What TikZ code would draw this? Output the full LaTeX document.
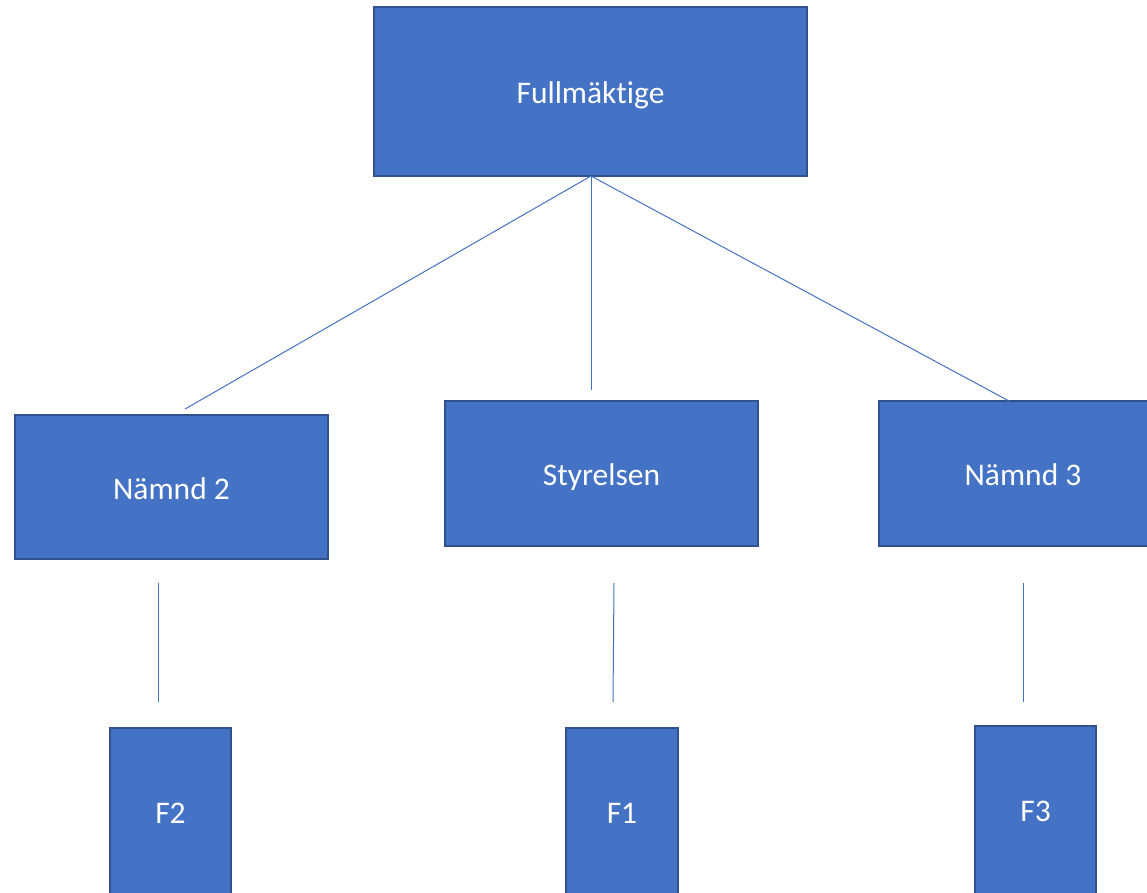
\documentclass[tikz,border=0pt]{standalone}
\usepackage{fontspec}
\setmainfont{Carlito}[Ligatures=NoCommon]
\definecolor{boxfill}{HTML}{4472C4}
\definecolor{boxline}{HTML}{2F528F}
\definecolor{linkline}{HTML}{4472C4}
\begin{document}
\begin{tikzpicture}[x=1pt,y=-1pt,
  orgbox/.style={rectangle, fill=boxfill, draw=boxline, line width=1.5pt,
    text=white, inner sep=0pt, text height=24pt, text depth=0pt,
    font=\fontsize{31.5}{36}\selectfont},
  tallbox/.style={orgbox, text height=20pt},
  link/.style={draw=linkline, line width=1pt}]
\useasboundingbox (0,0) rectangle (1147,892);
\clip (0,0) rectangle (1147,892);
\node[orgbox, minimum width=433pt, minimum height=169pt] (full) at (590.5,91.5) {Fullmäkt\kern0pt ige};
\node[orgbox, minimum width=313pt, minimum height=144pt] (n2) at (171.5,487) {Nämnd 2};
\node[orgbox, minimum width=313pt, minimum height=145pt] (sty) at (601.5,473.5) {Styrelsen};
\node[orgbox, minimum width=288pt, minimum height=145pt] (n3) at (1023,473.5) {Nämnd 3};
\node[tallbox, minimum width=121pt, minimum height=170pt] (f2) at (170.5,813) {F2};
\node[tallbox, minimum width=112pt, minimum height=170pt] (f1) at (622,813) {F1};
\node[tallbox, minimum width=121pt, minimum height=170pt] (f3) at (1035.5,811) {F3};
\coordinate (top) at (591,176);
\coordinate (e2) at (185,409);
\coordinate (es) at (591,390);
\coordinate (e3) at (1009,401);
\coordinate (a2) at (158,583);
\coordinate (b2) at (158,702);
\coordinate (a1) at (614,583);
\coordinate (b1) at (613,702);
\coordinate (a3) at (1023,583);
\coordinate (b3) at (1023,702);
\draw[link] (top) -- (e2);
\draw[link] (top) -- (es);
\draw[link] (top) -- (e3);
\draw[link] (a2) -- (b2);
\draw[link] (a1) -- (b1);
\draw[link] (a3) -- (b3);
\end{tikzpicture}
\end{document}
